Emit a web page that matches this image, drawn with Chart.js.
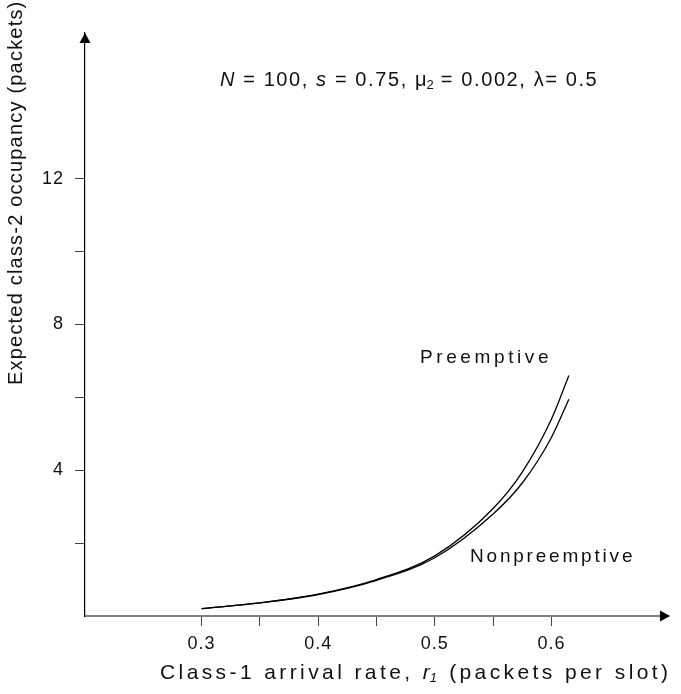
<!DOCTYPE html>
<html>
	<head>
		<meta charset="UTF-8">
		<title>class-2 occupancy</title>
		<script src="https://cdn.jsdelivr.net/npm/chart.js"></script>
		<style>
			* {padding: 0; margin: 0;}
			body {background: #fff;}
			#wrap {width: 681px; height: 694px;}
		</style>
	</head>
	<body>
		<div id="wrap">
			<canvas id="myChart" width="681" height="694"></canvas>
		</div>
		<script>
			// 데이터
			let rate = [0.3, 0.35, 0.4, 0.45, 0.5, 0.55, 0.575, 0.6, 0.615];
			let preemptive = [0.2, 0.36, 0.6, 1.0, 1.65, 2.95, 3.95, 5.4, 6.6];
			let nonpreemptive = [0.2, 0.36, 0.59, 0.98, 1.6, 2.8, 3.65, 4.9, 5.95];
			let xTicks = [0.3, 0.35, 0.4, 0.45, 0.5, 0.55, 0.6];
			let xLabels = [0.3, 0.4, 0.5, 0.6];
			let yTicks = [2, 4, 6, 8, 10, 12];
			let yLabels = [4, 8, 12];

			const FONT = "'Liberation Sans', Arial, sans-serif";

			function toPoints(xs, ys){
				let out = [];
				for (let i=0; i<xs.length; i++){
					out.push({x: xs[i], y: ys[i]});
				}
				return out;
			}

			// 텍스트를 조각조각 그리기 (이탤릭, 아래첨자)
			function drawRuns(ctx, runs, x, y){
				for (let r of runs){
					ctx.font = (r.italic ? "italic " : "") + r.size + "px " + FONT;
					ctx.letterSpacing = (r.sp || 0) + "px";
					ctx.fillText(r.t, x, y + (r.dy || 0));
					x += ctx.measureText(r.t).width;
				}
			}

			const extras = {
				id: 'extras',
				beforeLayout(chart){ chart.ctx.letterSpacing = "1px"; },
				beforeDraw(chart){ chart.ctx.letterSpacing = "1px"; },
				afterDraw(chart){
					const ctx = chart.ctx;
					const xs = chart.scales.x, ys = chart.scales.y;
					const x0 = xs.getPixelForValue(0.2);
					const y0 = ys.getPixelForValue(0);
					const yTop = ys.getPixelForValue(16);
					const xEnd = xs.getPixelForValue(0.7);
					ctx.save();
					// 화살표
					ctx.fillStyle = "#000";
					ctx.beginPath();
					ctx.moveTo(x0, yTop);
					ctx.lineTo(x0 - 5.5, yTop + 10);
					ctx.lineTo(x0 + 5.5, yTop + 10);
					ctx.closePath();
					ctx.fill();
					ctx.beginPath();
					ctx.moveTo(xEnd + 2, y0);
					ctx.lineTo(xEnd - 8, y0 - 5.5);
					ctx.lineTo(xEnd - 8, y0 + 5.5);
					ctx.closePath();
					ctx.fill();

					ctx.fillStyle = "#111";
					ctx.textBaseline = "middle";
					ctx.textAlign = "left";
					// 조건 표시
					drawRuns(ctx, [
						{t: "N", size: 20, italic: true, sp: 1.6},
						{t: " = 100, ", size: 20, sp: 1.6},
						{t: "s", size: 20, italic: true, sp: 1.6},
						{t: " = 0.75, ", size: 20, sp: 1.6},
						{t: "\u03bc", size: 20, sp: 0},
						{t: "2", size: 13, dy: 5, sp: 0},
						{t: " = 0.002, \u03bb= 0.5", size: 20, sp: 1.6}
					], 220, 80);

					// 곡선 이름
					drawRuns(ctx, [{t: "Preemptive", size: 19, sp: 3.6}], 420, 358);
					drawRuns(ctx, [{t: "Nonpreemptive", size: 19, sp: 2.8}], 470, 557);

					// x축 제목
					drawRuns(ctx, [
						{t: "Class-1 arrival rate, ", size: 21, sp: 3.4},
						{t: "r", size: 21, italic: true, sp: 0},
						{t: "1", size: 13, italic: true, dy: 5, sp: 3},
						{t: " (packets per slot)", size: 21, sp: 3.4}
					], 160, 673);

					// y축 제목
					ctx.translate(16, 385);
					ctx.rotate(-Math.PI / 2);
					drawRuns(ctx, [{t: "Expected class-2 occupancy (packets)", size: 20, sp: 1.2}], 0, 0);
					ctx.restore();
				}
			};

			const ctx = document.getElementById('myChart');
			new Chart(ctx, {
				type: 'line',
				data: {
					datasets: [{
						label: "Preemptive",
						data: toPoints(rate, preemptive),
						borderColor: "#000",
						borderWidth: 1.3,
						pointRadius: 0,
						cubicInterpolationMode: 'monotone'
					}, {
						label: "Nonpreemptive",
						data: toPoints(rate, nonpreemptive),
						borderColor: "#000",
						borderWidth: 1.3,
						pointRadius: 0,
						cubicInterpolationMode: 'monotone'
					}]
				},
				options: {
					responsive: false,
					animation: false,
					layout: {padding: {top: 33, right: 13, left: 0, bottom: 0}},
					plugins: {legend: {display: false}, tooltip: {enabled: false}},
					scales: {
						x: {
							type: 'linear',
							min: 0.2, max: 0.7,
							afterBuildTicks: function(s){ s.ticks = xTicks.map(v => ({value: v})); },
							afterFit: function(s){ s.height = 78; },
							ticks: {
								color: "#111",
								font: {family: FONT, size: 18},
								padding: 7,
								maxRotation: 0,
								callback: function(v){ return xLabels.includes(Math.round(v*100)/100) ? v.toFixed(1) : ""; }
							},
							grid: {drawOnChartArea: false, tickLength: 10, tickColor: "#444", tickWidth: 1},
							border: {color: "#808080", width: 2}
						},
						y: {
							min: 0, max: 16,
							afterBuildTicks: function(s){ s.ticks = yTicks.map(v => ({value: v})); },
							afterFit: function(s){ s.width = 85; },
							ticks: {
								color: "#111",
								font: {family: FONT, size: 18},
								padding: 11,
								callback: function(v){ return yLabels.includes(v) ? String(v) : ""; }
							},
							grid: {drawOnChartArea: false, tickLength: 10, tickColor: "#444", tickWidth: 1},
							border: {color: "#000", width: 1.2}
						}
					}
				},
				plugins: [extras]
			});
		</script>
	</body>
</html>
